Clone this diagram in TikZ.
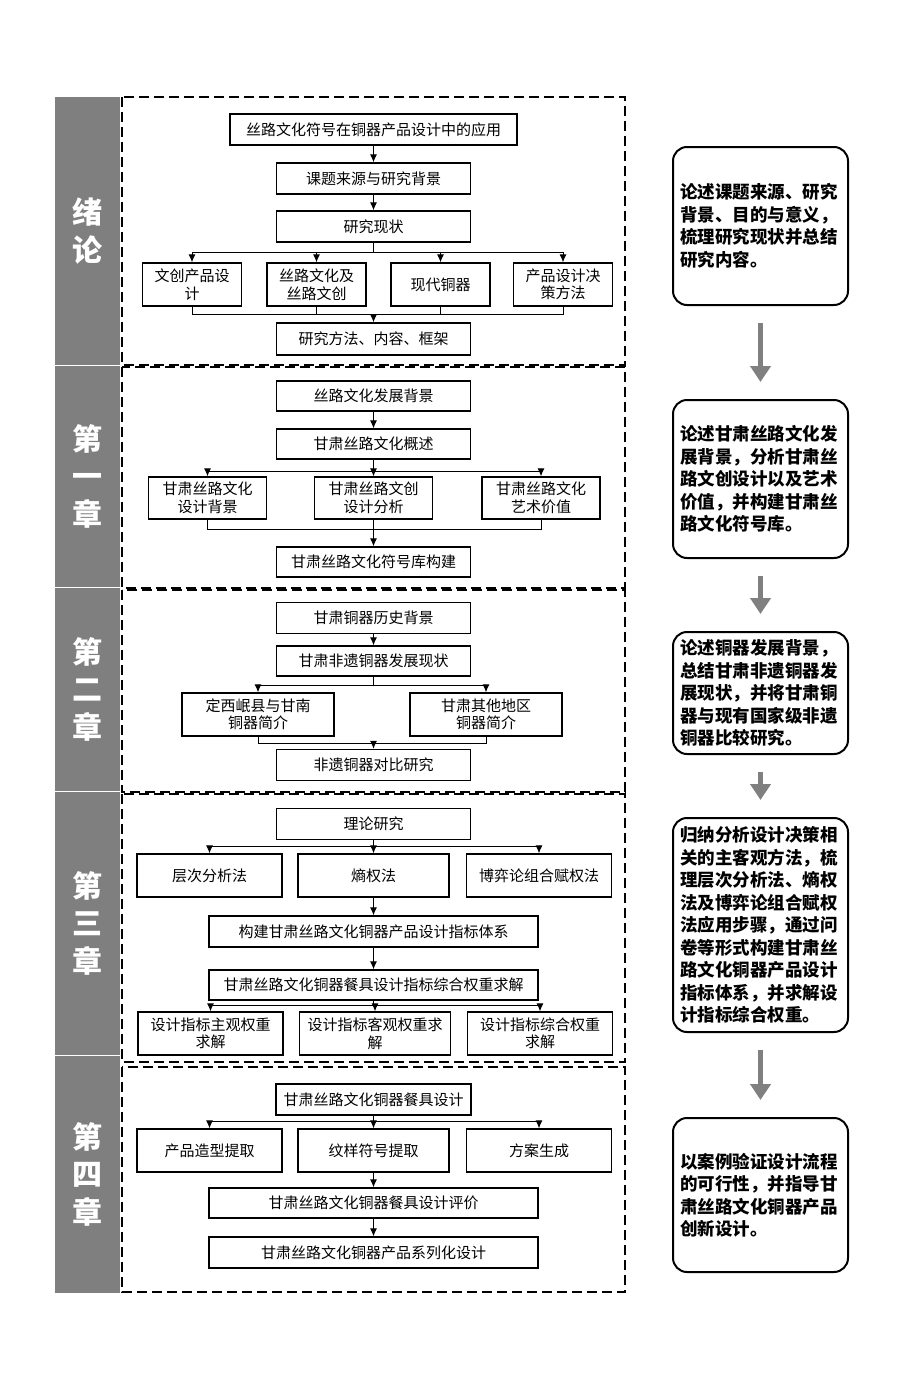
\documentclass[tikz,border=0pt]{standalone}
\usepackage{fontspec}
\setmainfont{Noto Sans CJK SC}
\usetikzlibrary{arrows.meta}

\definecolor{chapgray}{RGB}{127,127,127}
\definecolor{arrowgray}{RGB}{128,128,128}

\begin{document}
\begin{tikzpicture}[x=1pt,y=-1pt,
    box/.style={draw, line width=1.3pt, inner sep=1pt, align=center,
      font=\fontsize{15}{17.5}\selectfont},
    note/.style={draw, line width=2pt, rounded corners=14pt, minimum width=175pt,
      text width=161pt, align=left, font=\bfseries\fontsize{17.5}{22.5}\selectfont},
    chap/.style={text=white, align=center, font=\bfseries\fontsize{30}{37.5}\selectfont},
    sec/.style={draw, dash pattern=on 10pt off 5pt, line width=1.3pt},
    link/.style={line width=1pt},
    bigarrow/.style={line width=5pt, arrowgray, -{Triangle[length=16pt,width=20pt]},
      shorten <=17pt, shorten >=17pt},
    >={Latex[length=8pt,width=7pt]}]
  \useasboundingbox (0,0) rectangle (900,1400);
  \fill[white] (0,0) rectangle (900,1400);

  % chapter column
  \fill[chapgray] (55,97) rectangle (120,1293);
  \foreach \y in {365,587,791,1055}
    \draw[white, line width=0.8pt] (55,\y) -- (120,\y);
  \node[chap] (c0) at (87.5,231) {绪\\论};
  \node[chap] (c1) at (87.5,476) {第\\一\\章};
  \node[chap] (c2) at (87.5,689) {第\\二\\章};
  \node[chap] (c3) at (87.5,923) {第\\三\\章};
  \node[chap] (c4) at (87.5,1174) {第\\四\\章};

  \draw[sec] (122,97) rectangle (625,365);
  \draw[sec] (122,367) rectangle (625,588);
  \draw[sec] (122,590) rectangle (625,792);
  \draw[sec] (122,794) rectangle (625,1062);
  \draw[sec] (122,1067) rectangle (625,1292);

  % introduction
  \node[box, minimum width=287pt, minimum height=31pt] (s0a) at (373.5,129.5) {丝路文化符号在铜器产品设计中的应用};
  \node[box, minimum width=194pt, minimum height=31pt] (s0b) at (373.5,178.5) {课题来源与研究背景};
  \node[box, minimum width=194pt, minimum height=31pt] (s0c) at (373.5,226.5) {研究现状};
  \node[box, minimum width=99pt, minimum height=43pt] (s0d) at (192,284.5) {文创产品设\\计};
  \node[box, minimum width=99pt, minimum height=43pt] (s0e) at (316.5,284.5) {丝路文化及\\丝路文创};
  \node[box, minimum width=99pt, minimum height=43pt] (s0f) at (440.5,284.5) {现代铜器};
  \node[box, minimum width=99pt, minimum height=43pt] (s0g) at (563,284.5) {产品设计决\\策方法};
  \node[box, minimum width=194pt, minimum height=32pt] (s0h) at (373.5,339) {研究方法、内容、框架};
  \coordinate (b0) at (373.5,252);
  \coordinate (m0) at (373.5,314);
  \draw[link,->] (s0a) -- (s0b);
  \draw[link,->] (s0b) -- (s0c);
  \draw[link] (s0c) -- (b0);
  \foreach \n in {s0d,s0e,s0f,s0g} {
    \draw[link,->] (b0) -| (\n);
    \draw[link] (\n) |- (m0);
  }
  \draw[link,->] (m0) -- (s0h);

  % chapter 1
  \node[box, minimum width=194pt, minimum height=30pt] (s1a) at (373.5,396) {丝路文化发展背景};
  \node[box, minimum width=194pt, minimum height=30pt] (s1b) at (373.5,444) {甘肃丝路文化概述};
  \node[box, minimum width=118pt, minimum height=42pt] (s1c) at (207.5,498) {甘肃丝路文化\\设计背景};
  \node[box, minimum width=118pt, minimum height=42pt] (s1d) at (373.5,498) {甘肃丝路文创\\设计分析};
  \node[box, minimum width=118pt, minimum height=42pt] (s1e) at (541,498) {甘肃丝路文化\\艺术价值};
  \node[box, minimum width=194pt, minimum height=30pt] (s1f) at (373.5,562) {甘肃丝路文化符号库构建};
  \coordinate (b1) at (373.5,471);
  \coordinate (m1) at (373.5,529);
  \draw[link,->] (s1a) -- (s1b);
  \draw[link] (s1b) -- (b1);
  \foreach \n in {s1c,s1d,s1e} {
    \draw[link,->] (b1) -| (\n);
    \draw[link] (\n) |- (m1);
  }
  \draw[link,->] (m1) -- (s1f);

  % chapter 2
  \node[box, minimum width=194pt, minimum height=31pt] (s2a) at (373.5,618) {甘肃铜器历史背景};
  \node[box, minimum width=194pt, minimum height=30pt] (s2b) at (373.5,661) {甘肃非遗铜器发展现状};
  \node[box, minimum width=152pt, minimum height=43pt] (s2c) at (258,714.5) {定西岷县与甘南\\铜器简介};
  \node[box, minimum width=152pt, minimum height=43pt] (s2d) at (486,714.5) {甘肃其他地区\\铜器简介};
  \node[box, minimum width=194pt, minimum height=31pt] (s2e) at (373.5,765) {非遗铜器对比研究};
  \coordinate (b2) at (373.5,685);
  \coordinate (m2) at (373.5,743);
  \draw[link,->] (s2a) -- (s2b);
  \draw[link] (s2b) -- (b2);
  \foreach \n in {s2c,s2d} {
    \draw[link,->] (b2) -| (\n);
    \draw[link] (\n) |- (m2);
  }
  \draw[link,->] (m2) -- (s2e);

  % chapter 3
  \node[box, minimum width=194pt, minimum height=31pt] (s3a) at (373.5,824) {理论研究};
  \node[box, minimum width=145pt, minimum height=43pt] (s3b) at (209.5,875.5) {层次分析法};
  \node[box, minimum width=151pt, minimum height=43pt] (s3c) at (373.5,875.5) {熵权法};
  \node[box, minimum width=145pt, minimum height=43pt] (s3d) at (539,875.5) {博弈论组合赋权法};
  \node[box, minimum width=329pt, minimum height=31pt] (s3e) at (373.5,931.5) {构建甘肃丝路文化铜器产品设计指标体系};
  \node[box, minimum width=329pt, minimum height=30pt] (s3f) at (373.5,985) {甘肃丝路文化铜器餐具设计指标综合权重求解};
  \node[box, minimum width=145pt, minimum height=43pt] (s3g) at (210.5,1033.5) {设计指标主观权重\\求解};
  \node[box, minimum width=151pt, minimum height=43pt] (s3h) at (375,1033.5) {设计指标客观权重求\\解};
  \node[box, minimum width=145pt, minimum height=43pt] (s3i) at (540,1033.5) {设计指标综合权重\\求解};
  \coordinate (b3) at (373.5,846);
  \coordinate (b4) at (373.5,1005);
  \draw[link] (s3a) -- (b3);
  \foreach \n in {s3b,s3c,s3d}
    \draw[link,->] (b3) -| (\n);
  \draw[link,->] (s3c) -- (s3e);
  \draw[link,->] (s3e) -- (s3f);
  \draw[link] (s3f) -- (b4);
  \foreach \n in {s3g,s3h,s3i}
    \draw[link,->] (b4) -| (\n);

  % chapter 4
  \node[box, minimum width=195pt, minimum height=31pt] (s4a) at (373.5,1099.5) {甘肃丝路文化铜器餐具设计};
  \node[box, minimum width=145pt, minimum height=43pt] (s4b) at (209.5,1150.5) {产品造型提取};
  \node[box, minimum width=151pt, minimum height=43pt] (s4c) at (373.5,1150.5) {纹样符号提取};
  \node[box, minimum width=145pt, minimum height=43pt] (s4d) at (539,1150.5) {方案生成};
  \node[box, minimum width=329pt, minimum height=30pt] (s4e) at (373.5,1203) {甘肃丝路文化铜器餐具设计评价};
  \node[box, minimum width=329pt, minimum height=31pt] (s4f) at (373.5,1252.5) {甘肃丝路文化铜器产品系列化设计};
  \coordinate (b5) at (373.5,1121);
  \draw[link] (s4a) -- (b5);
  \foreach \n in {s4b,s4c,s4d}
    \draw[link,->] (b5) -| (\n);
  \draw[link,->] (s4c) -- (s4e);
  \draw[link,->] (s4e) -- (s4f);

  % summaries
  \node[note, minimum height=158pt] (n0) at (760.5,226) {论述课题来源、研究\\背景、目的与意义，\\梳理研究现状并总结\\研究内容。};
  \node[note, minimum height=158pt] (n1) at (760.5,479) {论述甘肃丝路文化发\\展背景，分析甘肃丝\\路文创设计以及艺术\\价值，并构建甘肃丝\\路文化符号库。};
  \node[note, minimum height=122pt] (n2) at (760.5,693) {论述铜器发展背景，\\总结甘肃非遗铜器发\\展现状，并将甘肃铜\\器与现有国家级非遗\\铜器比较研究。};
  \node[note, minimum height=214pt] (n3) at (760.5,925) {归纳分析设计决策相\\关的主客观方法，梳\\理层次分析法、熵权\\法及博弈论组合赋权\\法应用步骤，通过问\\卷等形式构建甘肃丝\\路文化铜器产品设计\\指标体系，并求解设\\计指标综合权重。};
  \node[note, minimum height=154pt] (n4) at (760.5,1195) {以案例验证设计流程\\的可行性，并指导甘\\肃丝路文化铜器产品\\创新设计。};
  \draw[bigarrow] (n0) -- (n1);
  \draw[bigarrow] (n1) -- (n2);
  \draw[bigarrow] (n2) -- (n3);
  \draw[bigarrow] (n3) -- (n4);
\end{tikzpicture}
\end{document}
